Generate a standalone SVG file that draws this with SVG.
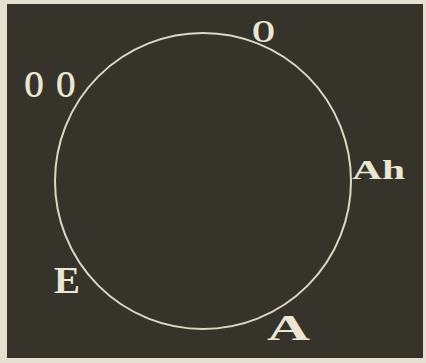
<svg xmlns="http://www.w3.org/2000/svg" width="426" height="363" viewBox="0 0 426 363">
<style>
.lbl{font-family:"Liberation Serif","DejaVu Serif",serif;fill:#ebe6d4;font-weight:bold}
</style>
<rect x="0" y="0" width="426" height="363" fill="#e4e0cf"/>
<rect x="7" y="4" width="416" height="354" fill="#36342a"/>
<g id="connectors">
<circle cx="203" cy="181" r="148" fill="none" stroke="#dcd7c4" stroke-width="2"/>
</g>
<g id="node-oo"><text class="lbl" font-size="37" transform="scale(0.68,1)" x="35.5 82.5" y="97">OO</text></g>
<g id="node-o"><text class="lbl" font-size="31" x="252" y="42" textLength="23" lengthAdjust="spacingAndGlyphs">O</text></g>
<g id="node-ah"><text class="lbl" font-size="28" x="352" y="179" textLength="53" lengthAdjust="spacingAndGlyphs">Ah</text></g>
<g id="node-e"><text class="lbl" font-size="37" x="54" y="293" textLength="26" lengthAdjust="spacingAndGlyphs">E</text></g>
<g id="node-a"><text class="lbl" font-size="36" x="267" y="340" textLength="43" lengthAdjust="spacingAndGlyphs">A</text></g>
</svg>
